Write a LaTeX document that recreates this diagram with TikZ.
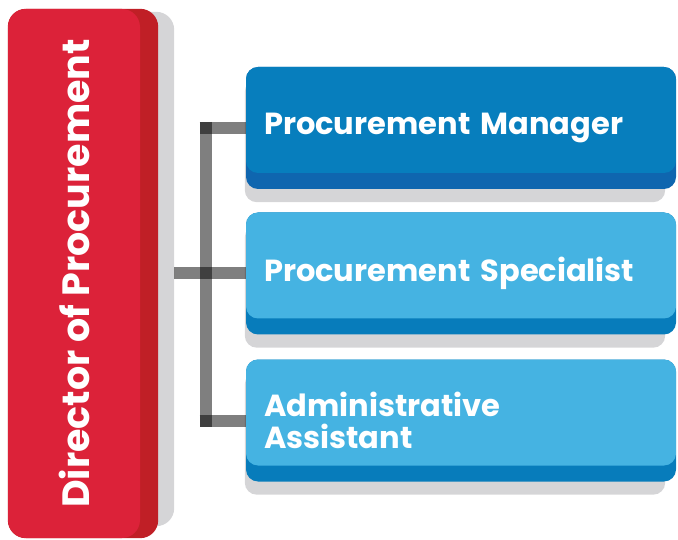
\documentclass[tikz,border=0pt]{standalone}
\usepackage{fontspec}
\setmainfont{Poppins}
\usetikzlibrary{backgrounds}
\definecolor{redface}{HTML}{DC2239}
\definecolor{redside}{HTML}{C01F26}
\definecolor{shade}{HTML}{D5D5D7}
\definecolor{darkface}{HTML}{077EBD}
\definecolor{darkside}{HTML}{0F66AF}
\definecolor{lightface}{HTML}{45B3E2}
\definecolor{lightside}{HTML}{077CBB}
\tikzset{
  rolebox/.style={rounded corners=12pt, minimum width=430pt, minimum height=122pt,
    text width=394pt, align=left, inner xsep=18pt, text=white,
    font=\bfseries\fontsize{30.5}{32}\selectfont},
  facecol/.style={path picture={\fill[#1, rounded corners=12pt]
    (path picture bounding box.north west) rectangle
    ([yshift=16pt]path picture bounding box.south east);}},
  conn/.style={draw=black, draw opacity=0.5, line width=12pt},
  shadowfill/.style={fill=shade, rounded corners=12pt}
}
\begin{document}
\begin{tikzpicture}[x=1pt,y=-1pt]
\useasboundingbox (0,0) rectangle (678,540);
% director
\node[fill=redface, rounded corners=18pt, minimum width=132pt, minimum height=529pt,
  text=white, font=\bfseries\fontsize{38}{40}\selectfont,
  inner sep=0pt] (d) at (74,273.5) {\rotatebox{90}{Director of Procurement}};
% roles
\node[rolebox, fill=darkside, facecol=darkface] (m) at (461,128) {Procurement Manager};
\node[rolebox, fill=lightside, facecol=lightface] (s) at (461,273.5) {Procurement Specialist};
\node[rolebox, fill=lightside, facecol=lightface] (a) at (461,420.5) {Administrative\\Assistant};
\coordinate (sx) at (205.5,0);
\begin{scope}[on background layer]
  \fill[shadowfill, rounded corners=18pt] ([yshift=-3pt]d.north west) rectangle ([xshift=34pt,yshift=12pt]d.south east);
  \fill[fill=redside, rounded corners=18pt] (d.north west) rectangle ([xshift=18pt]d.south east);
  \foreach \b in {m,s,a}{
    \fill[shadowfill] ([xshift=-1pt,yshift=-13pt]\b.north west) rectangle ([xshift=-11pt,yshift=-13pt]\b.south east);
  }
\end{scope}
\begin{scope}[on background layer]
  \draw[conn] ([xshift=-6pt]sx |- m.west) -- (m.west);
  \draw[conn] ([xshift=-6pt]sx |- a.west) -- (a.west);
  \draw[conn] ([yshift=6pt]sx |- m.west) -- ([yshift=-6pt]sx |- a.west);
  \draw[conn] ([xshift=34pt]d.east |- s.west) -- (s.west);
\end{scope}
\end{tikzpicture}
\end{document}
